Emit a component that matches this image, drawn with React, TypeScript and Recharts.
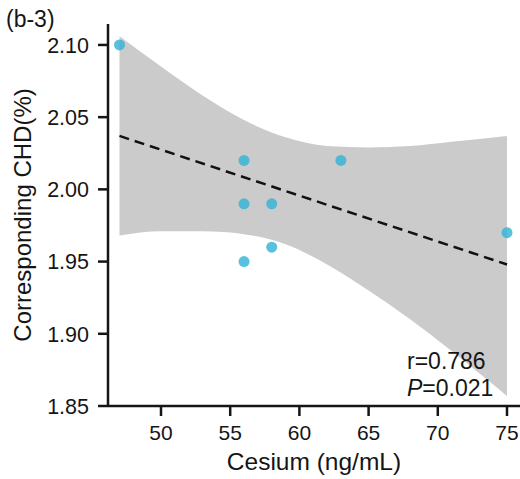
import React from 'react';
import {
  ComposedChart,
  Area,
  Line,
  Scatter,
  XAxis,
  YAxis,
} from 'recharts';

// observed points (Cesium ng/mL vs corresponding CHD %)
const cesium = [47, 56, 56, 58, 63, 56, 58, 75];
const chd = [2.1, 2.02, 1.99, 1.99, 2.02, 1.95, 1.96, 1.97];

// fitted line end points
const fitX = [47, 75];
const fitY = [2.037, 1.948];

// confidence band edges
const bandX = [47, 50, 53, 56, 59, 62, 65, 68, 71, 75];
const bandLow = [1.968, 1.971, 1.971, 1.969, 1.962, 1.948, 1.93, 1.91, 1.888, 1.857];
const bandHigh = [2.106, 2.085, 2.065, 2.048, 2.036, 2.03, 2.029, 2.03, 2.033, 2.037];

const xTicks = [50, 55, 60, 65, 70, 75];
const yTicks = [1.85, 1.9, 1.95, 2.0, 2.05, 2.1];

const points = cesium.map((x, i) => ({ x, y: chd[i] }));
const fitData = fitX.map((x, i) => ({ x, fit: fitY[i] }));
const bandData = bandX.map((x, i) => ({ x, band: [bandLow[i], bandHigh[i]] }));

const font = '"Liberation Sans", Arial, Helvetica, sans-serif';
const ink = '#151515';

// plot frame (chart margins + axis sizes below)
const LEFT = 108;
const TOP = 24;
const W = 520;
const H = 479;
const X_AXIS_H = 73;
const BOTTOM = H - X_AXIS_H;

// tick mark + label drawn together so the marks always show
const XTick = (props: any) => {
  const { x, payload } = props;
  return (
    <g>
      <rect x={x - 1.25} y={BOTTOM} width={2.5} height={10} fill={ink} />
      <text x={x} y={BOTTOM + 19} dy="0.72em" textAnchor="middle" fill={ink} fontSize={21} fontFamily={font}>
        {payload.value}
      </text>
    </g>
  );
};

const YTick = (props: any) => {
  const { y, payload } = props;
  return (
    <g>
      <rect x={LEFT - 10} y={y - 1.25} width={10} height={2.5} fill={ink} />
      <text x={LEFT - 19} y={y} dy="0.36em" textAnchor="end" fill={ink} fontSize={21.5} fontFamily={font}>
        {Number(payload.value).toFixed(2)}
      </text>
    </g>
  );
};

const Dot = (props: any) => (
  <circle cx={props.cx} cy={props.cy} r={5.5} fill="#34b3d6" fillOpacity={0.82} />
);

const App: React.FC = () => {
  return (
    <div style={{ position: 'absolute', left: 0, top: 0, width: W, height: H, background: '#fff', fontFamily: font, color: ink }}>
      <ComposedChart width={W} height={H} margin={{ top: TOP, right: 0, bottom: 0, left: 0 }}>
        <XAxis
          type="number"
          dataKey="x"
          domain={[46.17, 75.94]}
          ticks={xTicks}
          allowDataOverflow
          height={X_AXIS_H}
          stroke={ink}
          axisLine={{ stroke: ink, strokeWidth: 2.5 }}
          tickLine={false}
          tick={<XTick />}
          label={{
            value: 'Cesium (ng/mL)',
            position: 'insideBottom',
            offset: 9,
            style: { fontSize: 24.5, fill: ink, fontFamily: font },
          }}
        />
        <YAxis
          type="number"
          domain={[1.85, 2.1145]}
          ticks={yTicks}
          allowDataOverflow
          width={LEFT}
          stroke={ink}
          axisLine={{ stroke: ink, strokeWidth: 2.5 }}
          tickLine={false}
          tick={<YTick />}
          label={{
            value: 'Corresponding CHD(%)',
            angle: -90,
            position: 'insideLeft',
            offset: 22,
            style: { textAnchor: 'middle', fontSize: 24, fill: ink, fontFamily: font },
          }}
        />
        <Area
          data={bandData}
          dataKey="band"
          type="monotone"
          fill="#cbcbcb"
          fillOpacity={1}
          stroke="none"
          isAnimationActive={false}
        />
        <Scatter data={points} dataKey="y" shape={Dot} isAnimationActive={false} />
        <Line
          data={fitData}
          dataKey="fit"
          type="linear"
          stroke="#111"
          strokeWidth={2.5}
          strokeDasharray="10 6"
          dot={false}
          activeDot={false}
          isAnimationActive={false}
        />
      </ComposedChart>
      <div style={{ position: 'absolute', left: 6, top: 8, fontSize: 23, lineHeight: 1 }}>(b-3)</div>
      <div style={{ position: 'absolute', left: 407, top: 348, fontSize: 23, lineHeight: '27px' }}>
        <div>r=0.786</div>
        <div><i>P</i>=0.021</div>
      </div>
    </div>
  );
};

export default App;
